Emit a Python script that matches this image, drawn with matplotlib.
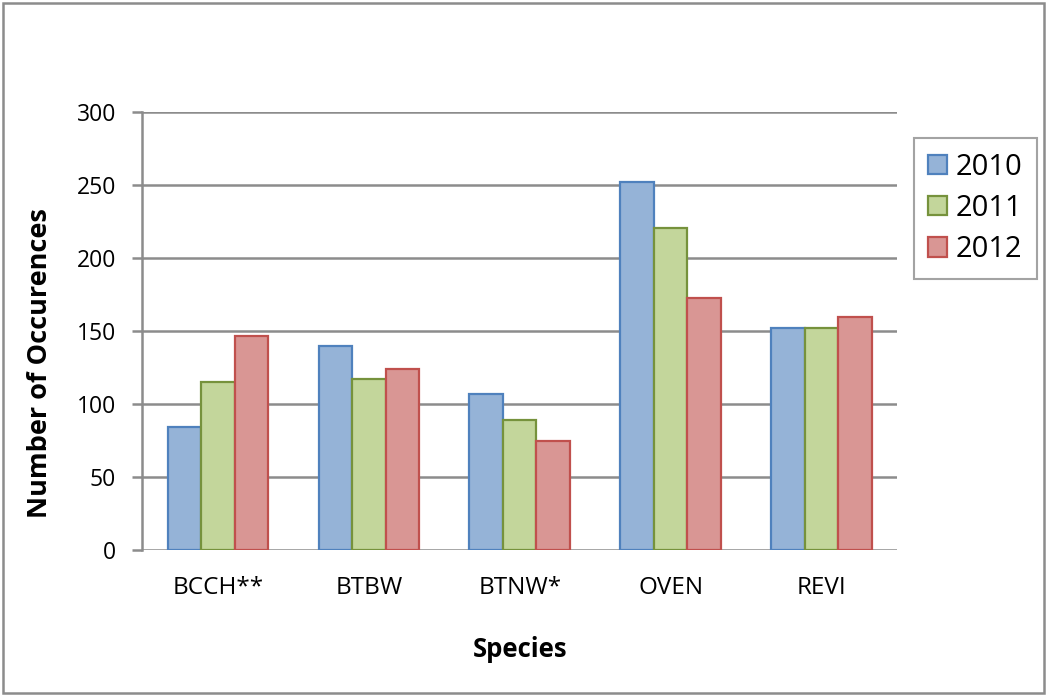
import matplotlib
matplotlib.use("Agg")
import matplotlib.pyplot as plt
import numpy as np
from matplotlib.patches import Rectangle

species = ["BCCH**", "BTBW", "BTNW*", "OVEN", "REVI"]
years = ["2010", "2011", "2012"]
counts_2010 = [84, 140, 107, 252, 152]
counts_2011 = [115, 117, 89, 221, 152]
counts_2012 = [147, 124, 75, 173, 160]
y_ticks = [0, 50, 100, 150, 200, 250, 300]

fills = ["#95B3D7", "#C3D69B", "#D99694"]
edges = ["#4F81BD", "#76923C", "#C0504D"]

plt.rcParams["font.family"] = ["Open Sans", "DejaVu Sans"]

fig = plt.figure(figsize=(10.47, 6.96), dpi=100)
ax = fig.add_axes([0.1361, 0.2098, 0.7206, 0.6286])

x = np.arange(len(species))
w = 0.222
series = [counts_2010, counts_2011, counts_2012]
for i, (vals, yr) in enumerate(zip(series, years)):
    ax.bar(x + (i - 1) * w, vals, width=w, color=fills[i], edgecolor=edges[i],
           linewidth=1.6, label=yr, zorder=3)

ax.set_xlim(-0.5, len(species) - 0.5)
ax.set_ylim(0, 300)
ax.set_yticks(y_ticks)
ax.set_xticks(x)
ax.set_xticklabels(species)
ax.grid(axis="y", color="#8C8C8C", linewidth=1.8, zorder=0)
for s in ["top", "right", "bottom"]:
    ax.spines[s].set_visible(False)
ax.spines["left"].set_color("#8C8C8C")
ax.spines["left"].set_linewidth(1.8)
ax.tick_params(axis="y", length=7, width=1.8, color="#8C8C8C", labelsize=16.5, pad=12)
ax.tick_params(axis="x", length=0, labelsize=17.5, pad=19)

ax.set_xlabel("Species", fontsize=18.5, fontweight="bold", labelpad=26)
ax.set_ylabel("Number of Occurences", fontsize=19.5, fontweight="bold")
ax.yaxis.set_label_coords(-0.119, 0.427)

leg = ax.legend(loc="upper left", bbox_to_anchor=(1.003, 0.975), fontsize=21,
                frameon=True, fancybox=False, edgecolor="#8C8C8C",
                handlelength=0.65, handleheight=0.65, handletextpad=0.3,
                labelspacing=0.42, borderpad=0.5)
leg.get_frame().set_linewidth(1.5)

fig.patches.append(Rectangle((0.003, 0.004), 0.994, 0.991, transform=fig.transFigure,
                             fill=False, edgecolor="#8C8C8C", linewidth=1.8))

fig.savefig("out.png", dpi=100)
